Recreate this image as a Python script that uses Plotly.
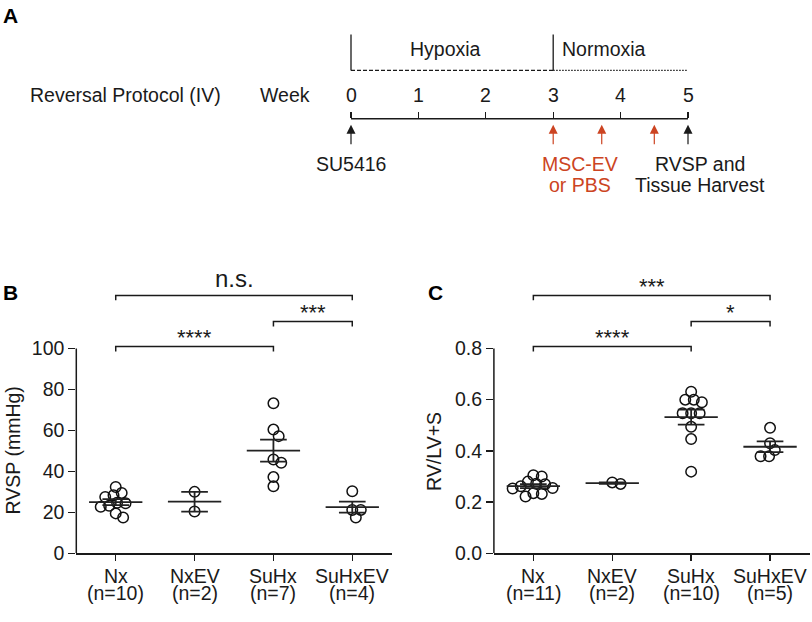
import numpy as np
import plotly.graph_objects as go

# ---------------- data ----------------
categories = ["Nx", "NxEV", "SuHx", "SuHxEV"]
rvsp_n_labels = ["(n=10)", "(n=2)", "(n=7)", "(n=4)"]
rvlv_n_labels = ["(n=11)", "(n=2)", "(n=10)", "(n=5)"]

rvsp_nx = [32.4, 28.4, 29.5, 27.5, 24.7, 24.4, 22.7, 23.2, 19.5, 17.5]
rvsp_nxev = [30.0, 20.4]
rvsp_suhx = [73.2, 60.4, 57.2, 45.8, 44.2, 37.2, 32.7]
rvsp_suhxev = [30.3, 21.2, 21.2, 17.5]

rvlv_nx = [0.305, 0.300, 0.280, 0.272, 0.270, 0.262, 0.255, 0.253, 0.235, 0.232, 0.222]
rvlv_nxev = [0.271, 0.277]
rvlv_suhx = [0.631, 0.600, 0.600, 0.590, 0.547, 0.547, 0.547, 0.494, 0.446, 0.319]
rvlv_suhxev = [0.490, 0.430, 0.403, 0.379, 0.379]

rvsp_ticks = [0, 20, 40, 60, 80, 100]
rvlv_ticks = [0.0, 0.2, 0.4, 0.6, 0.8]
rvlv_tick_text = ["0.0", "0.2", "0.4", "0.6", "0.8"]

rvsp_comparisons = [(0, 2, "****"), (2, 3, "***"), (0, 3, "n.s.")]
rvlv_comparisons = [(0, 2, "****"), (2, 3, "*"), (0, 3, "***")]

weeks = [0, 1, 2, 3, 4, 5]
phase_labels = ["Hypoxia", "Normoxia"]
phase_bounds = [0, 3, 5]
treatment_weeks = [3, 3.72, 4.5]
event_weeks = [0, 5]

# ---------------- geometry (pixels) ----------------
W, H = 812, 622
FONT = "Liberation Sans, Arial, Helvetica, sans-serif"
FS = 19.5
INK = "#1a1a1a"
RED = "#cc4422"
BG = "white"


def fx(p):
    return p / W


def fy(p):
    return 1 - p / H


def mid(baseline, size):
    # centre of an annotation box whose text baseline sits at `baseline` px
    return fy(baseline - 0.3465 * size)


Y0_PX, YMAX_PX, YTOP_PX = 563.3, 354.7, 281.7
TOP_FACTOR = (Y0_PX - YTOP_PX) / (Y0_PX - YMAX_PX)
CAT_PX = 78.9

panels = [
    dict(xd=(76.3, 391.7), groups=[rvsp_nx, rvsp_nxev, rvsp_suhx, rvsp_suhxev],
         ymax=100, ticks=rvsp_ticks, ticktext=[str(t) for t in rvsp_ticks],
         nlabels=rvsp_n_labels, comps=rvsp_comparisons, title="RVSP (mmHg)",
         title_x=12.5, letter="B", letter_x=1),
    dict(xd=(493.9, 809.5), groups=[rvlv_nx, rvlv_nxev, rvlv_suhx, rvlv_suhxev],
         ymax=0.8, ticks=rvlv_ticks, ticktext=rvlv_tick_text,
         nlabels=rvlv_n_labels, comps=rvlv_comparisons, title="RV/LV+S",
         title_x=434, letter="C", letter_x=426),
]


def swarm(values, ypx_per_unit, diam=8.5):
    vals = np.asarray(values, float)
    order = np.argsort(-vals, kind="stable")
    placed = []
    offs = np.zeros(len(vals))
    for i in order:
        y = vals[i] * ypx_per_unit
        forb = []
        for (px, py) in placed:
            dy = abs(py - y)
            if dy < diam:
                dx = np.sqrt(diam ** 2 - dy ** 2)
                forb.append((px - dx, px + dx))
        cands = [0.0] + [a for iv in forb for a in iv]
        ok = [c for c in cands if all(not (lo + 1e-6 < c < hi - 1e-6) for lo, hi in forb)]
        best = min(ok, key=lambda c: (round(abs(c), 4), -c))
        offs[i] = best
        placed.append((best, y))
    return offs


fig = go.Figure()
layout = dict(
    width=W, height=H, margin=dict(l=0, r=0, t=0, b=0),
    paper_bgcolor=BG, plot_bgcolor=BG, showlegend=False,
    font=dict(family=FONT, size=FS, color=INK),
)
annotations = []
shapes = []

for k, p in enumerate(panels):
    xa = "x" if k == 0 else "x2"
    ya = "y" if k == 0 else "y2"
    xkey = "xaxis" if k == 0 else "xaxis2"
    ykey = "yaxis" if k == 0 else "yaxis2"
    ymax = p["ymax"]
    ypx = (Y0_PX - YMAX_PX) / ymax
    layout[xkey] = dict(
        domain=[fx(p["xd"][0]), fx(p["xd"][1])], range=[-0.5, 3.5], anchor=ya,
        showline=True, linecolor=INK, linewidth=1.5, ticks="outside", ticklen=6,
        tickwidth=1.5, tickcolor=INK, tickvals=[0, 1, 2, 3], showticklabels=False,
        showgrid=False, zeroline=False, fixedrange=True,
    )
    layout[ykey] = dict(
        domain=[fy(Y0_PX), fy(YTOP_PX)], range=[0, ymax * TOP_FACTOR], anchor=xa,
        showline=False, ticks="outside", ticklen=7, tickwidth=1.5, tickcolor=INK,
        tickvals=p["ticks"], ticktext=p["ticktext"], tickfont=dict(size=FS, color=INK),
        showgrid=False, zeroline=False, fixedrange=True,
    )
    # y axis line only up to the top tick
    shapes.append(dict(type="line", xref=f"{xa} domain", yref=ya, x0=0, x1=0,
                       y0=0, y1=ymax, line=dict(color=INK, width=1.5)))

    for gi, vals in enumerate(p["groups"]):
        vals = np.asarray(vals, float)
        offs = swarm(vals, ypx) / CAT_PX
        fig.add_trace(go.Scatter(
            x=gi + offs, y=vals, xaxis=xa, yaxis=ya, mode="markers",
            marker=dict(symbol="circle-open", size=10.5, color="#111111",
                        line=dict(width=1.5)),
            hoverinfo="skip", cliponaxis=False))
        m = vals.mean()
        sem = vals.std(ddof=1) / np.sqrt(len(vals))
        mw, cw = 0.338, 0.169
        fig.add_trace(go.Scatter(
            x=[gi - mw, gi + mw, None, gi - cw, gi + cw, None, gi - cw, gi + cw, None, gi, gi],
            y=[m, m, None, m + sem, m + sem, None, m - sem, m - sem, None, m - sem, m + sem],
            xaxis=xa, yaxis=ya, mode="lines", line=dict(color="#222222", width=1.8),
            hoverinfo="skip"))
        # category labels (two tight lines)
        annotations.append(dict(xref=xa, yref="paper", x=gi, y=mid(593.3, FS),
                                text=categories[gi], showarrow=False,
                                font=dict(size=FS, color=INK), xanchor="center", yanchor="middle"))
        annotations.append(dict(xref=xa, yref="paper", x=gi, y=mid(610.0, FS),
                                text=p["nlabels"][gi], showarrow=False,
                                font=dict(size=FS, color=INK), xanchor="center", yanchor="middle"))

    # significance brackets
    levels_px = [352.7, 327.3, 300.7]
    tick_px = 5.0
    for (a, b, lab), lvl in zip(p["comps"], levels_px):
        h = (Y0_PX - lvl) / ypx
        t = tick_px / ypx
        fig.add_trace(go.Scatter(
            x=[a, a, b, b], y=[h - t, h, h, h - t], xaxis=xa, yaxis=ya, mode="lines",
            line=dict(color=INK, width=1.5), hoverinfo="skip"))
        if lab == "n.s.":
            annotations.append(dict(xref=xa, yref="paper", x=(a + b) / 2, y=fy(lvl - 17.3),
                                    text=lab, showarrow=False, font=dict(size=24, color=INK),
                                    xanchor="center", yanchor="middle"))
        else:
            annotations.append(dict(xref=xa, yref="paper", x=(a + b) / 2, y=fy(lvl - 9.2),
                                    text=lab, showarrow=False, font=dict(size=22, color=INK),
                                    xanchor="center", yanchor="middle"))

    # y title
    annotations.append(dict(xref="paper", yref=ya, x=fx(p["title_x"]), y=ymax / 2,
                            text=p["title"], textangle=-90, showarrow=False,
                            font=dict(size=FS, color=INK), xanchor="center", yanchor="middle"))
    # panel letter
    annotations.append(dict(xref="paper", yref="paper", x=fx(p["letter_x"]), y=mid(305.5, 21),
                            text=f"<b>{p['letter']}</b>", showarrow=False,
                            font=dict(size=21, color="#000000"), xanchor="left", yanchor="middle"))

# ---------------- panel A: timeline ----------------
W0_PX, WEEK_PX = 351.0, 67.4
XA_L, XA_R = 340.0, 700.0
layout["xaxis3"] = dict(
    domain=[fx(XA_L), fx(XA_R)],
    range=[(XA_L - W0_PX) / WEEK_PX, (XA_R - W0_PX) / WEEK_PX],
    anchor="y3", side="top", showline=False, showgrid=False, zeroline=False,
    ticks="outside", ticklen=6, tickwidth=1.3, tickcolor=INK, tickvals=weeks,
    showticklabels=False, fixedrange=True,
)
layout["yaxis3"] = dict(domain=[fy(160), fy(121)], range=[0, 1], visible=False,
                        anchor="x3", fixedrange=True)

# timeline base line
shapes.append(dict(type="line", xref="x3", yref="paper", x0=weeks[0], x1=weeks[-1],
                   y0=fy(121), y1=fy(121), line=dict(color=INK, width=1.5)))
# phase boundaries and phase lines
for wk in phase_bounds[:2]:
    shapes.append(dict(type="line", xref="x3", yref="paper", x0=wk, x1=wk,
                       y0=fy(35), y1=fy(71.7), line=dict(color=INK, width=1.3)))
shapes.append(dict(type="line", xref="x3", yref="paper", x0=phase_bounds[0], x1=phase_bounds[1],
                   y0=fy(71.7), y1=fy(71.7), line=dict(color=INK, width=1.3, dash="4px,2px")))
shapes.append(dict(type="line", xref="x3", yref="paper", x0=phase_bounds[1], x1=phase_bounds[2],
                   y0=fy(71.7), y1=fy(71.7), line=dict(color=INK, width=1.3, dash="1.5px,1.5px")))

phase_label_weeks = [1.40, 3.76]
for lab, wk in zip(phase_labels, phase_label_weeks):
    annotations.append(dict(xref="x3", yref="paper", x=wk, y=mid(56.7, FS), text=lab,
                            showarrow=False, font=dict(size=FS, color=INK),
                            xanchor="center", yanchor="middle"))

for wk in weeks:
    annotations.append(dict(xref="x3", yref="paper", x=wk, y=mid(103.3, FS), text=str(wk),
                            showarrow=False, font=dict(size=FS, color=INK),
                            xanchor="center", yanchor="middle"))
annotations.append(dict(xref="paper", yref="paper", x=fx(125.7), y=mid(103.3, FS),
                        text="Reversal Protocol (IV)", showarrow=False,
                        font=dict(size=FS, color=INK), xanchor="center", yanchor="middle"))
annotations.append(dict(xref="paper", yref="paper", x=fx(285), y=mid(103.3, FS),
                        text="Week", showarrow=False,
                        font=dict(size=FS, color=INK), xanchor="center", yanchor="middle"))

# arrows
for wk in event_weeks:
    annotations.append(dict(xref="x3", yref="paper", x=wk, y=fy(127), text="",
                            showarrow=True, ax=0, ay=21, arrowhead=2, arrowsize=1.5,
                            arrowwidth=1.2, arrowcolor=INK, font=dict(size=1)))
for wk in treatment_weeks:
    annotations.append(dict(xref="x3", yref="paper", x=wk, y=fy(127), text="",
                            showarrow=True, ax=0, ay=21, arrowhead=2, arrowsize=1.5,
                            arrowwidth=1.2, arrowcolor=RED, font=dict(size=1)))

annotations.append(dict(xref="x3", yref="paper", x=event_weeks[0], y=mid(174, FS), text="SU5416",
                        showarrow=False, font=dict(size=FS, color=INK),
                        xanchor="center", yanchor="middle"))
tx = (580 - W0_PX) / WEEK_PX
annotations.append(dict(xref="x3", yref="paper", x=tx, y=mid(174, FS), text="MSC-EV",
                        showarrow=False, font=dict(size=FS, color=RED),
                        xanchor="center", yanchor="middle"))
annotations.append(dict(xref="x3", yref="paper", x=tx, y=mid(195, FS), text="or PBS",
                        showarrow=False, font=dict(size=FS, color=RED),
                        xanchor="center", yanchor="middle"))
hx = (700 - W0_PX) / WEEK_PX
annotations.append(dict(xref="x3", yref="paper", x=hx, y=mid(174, FS), text="RVSP and",
                        showarrow=False, font=dict(size=FS, color=INK),
                        xanchor="center", yanchor="middle"))
annotations.append(dict(xref="x3", yref="paper", x=hx, y=mid(195, FS), text="Tissue Harvest",
                        showarrow=False, font=dict(size=FS, color=INK),
                        xanchor="center", yanchor="middle"))
annotations.append(dict(xref="paper", yref="paper", x=fx(0.5), y=mid(22.7, 21),
                        text="<b>A</b>", showarrow=False,
                        font=dict(size=21, color="#000000"), xanchor="left", yanchor="middle"))

layout["annotations"] = annotations
layout["shapes"] = shapes
fig.update_layout(**layout)
fig.write_html(
    "out.html",
    config={"displayModeBar": False, "staticPlot": True},
    post_script=("var d=document.documentElement,b=document.body;"
                 "d.style.margin='0';d.style.padding='0';d.style.overflow='hidden';"
                 "b.style.margin='0';b.style.padding='0';b.style.overflow='hidden';"),
)
